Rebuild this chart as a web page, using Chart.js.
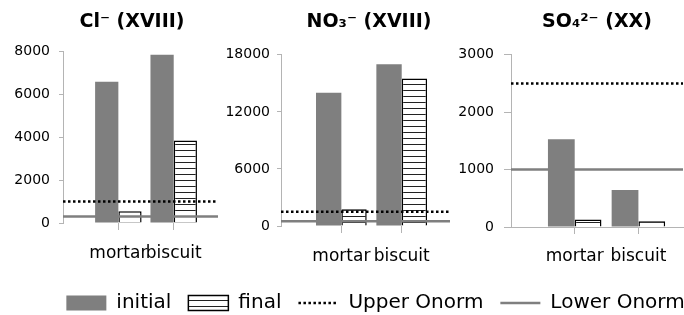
<!DOCTYPE html>
<html>
<head>
<meta charset="utf-8">
<script src="https://cdn.jsdelivr.net/npm/chart.js@4.4.1/dist/chart.umd.min.js"></script>
<style>
  html, body { margin: 0; padding: 0; background: #fff; overflow: hidden; }
  body { width: 684px; height: 315px; position: relative; }
  canvas { position: absolute; }
</style>
</head>
<body>
<canvas id="clChart" style="left:0px;top:0px" width="264" height="270"></canvas>
<canvas id="no3Chart" style="left:222px;top:0px" width="294" height="270"></canvas>
<canvas id="so4Chart" style="left:450px;top:0px" width="294" height="270"></canvas>
<canvas id="legendChart" style="left:0px;top:276px" width="751" height="100"></canvas>
<script>
// Werte
const categories = ['mortar', 'biscuit'];
const seriesNames = ['initial', 'final', 'Upper Onorm', 'Lower Onorm'];

const clInitial = [6600, 7860];
const clFinal = [550, 3850];
const clUpper = 1000;
const clLower = 300;
const clTicks = [0, 2000, 4000, 6000, 8000];

const no3Initial = [14000, 17000];
const no3Final = [1750, 15500];
const no3Upper = 1500;
const no3Lower = 500;
const no3Ticks = [0, 6000, 12000, 18000];

const so4Initial = [1530, 645];
const so4Final = [130, 100];
const so4Upper = 2500;
const so4Lower = 1000;
const so4Ticks = [0, 1000, 2000, 3000];

Chart.defaults.font.family = 'DejaVu Sans';
Chart.defaults.color = '#000';

const gray = '#7f7f7f';
const axisColor = '#b4b4b4';

// Schraffur fuer "final"
function makeHatch() {
  let c = document.createElement('canvas');
  c.width = 8;
  c.height = 6;
  let g = c.getContext('2d');
  g.fillStyle = '#fff';
  g.fillRect(0, 0, 8, 6);
  g.fillStyle = '#222';
  g.fillRect(0, 0, 8, 1);
  return g.createPattern(c, 'repeat');
}
const hatch = makeHatch();

// Titel horizontal an die Stelle aus dem Bild schieben
const titleShift = {
  id: 'titleShift',
  afterLayout(chart, args, opts) {
    let tb = chart.titleBlock;
    if (!tb || opts.center === undefined) return;
    let w = tb.right - tb.left;
    tb.left = opts.center - w / 2;
    tb.right = opts.center + w / 2;
  }
};

function buildDatasets(initial, final, upper, lower, xMax) {
  return [
    {
      type: 'bar', label: seriesNames[0], order: 2,
      data: initial.map((v, i) => ({ x: i + 1, y: v })),
      backgroundColor: gray, borderWidth: 0, pointStyle: 'rect'
    },
    {
      type: 'bar', label: seriesNames[1], order: 2,
      data: final.map((v, i) => ({ x: i + 1, y: v })),
      backgroundColor: hatch, borderColor: '#000', borderWidth: 1.5, pointStyle: 'rect'
    },
    {
      type: 'line', label: seriesNames[2], order: 1,
      data: [{ x: 0, y: upper }, { x: xMax, y: upper }],
      borderColor: '#000', borderWidth: 2.5, borderDash: [2.5, 2.5],
      pointRadius: 0, pointStyle: 'line'
    },
    {
      type: 'line', label: seriesNames[3], order: 1,
      data: [{ x: 0, y: lower }, { x: xMax, y: lower }],
      borderColor: gray, borderWidth: 2.5, pointRadius: 0, pointStyle: 'line'
    }
  ];
}

function renderPanel(id, title, initial, final, upper, lower, yTicks, g) {
  new Chart(document.getElementById(id), {
    type: 'bar',
    data: { datasets: buildDatasets(initial, final, upper, lower, g.xMax) },
    plugins: [titleShift],
    options: {
      responsive: false,
      animation: false,
      devicePixelRatio: 1,
      datasets: { bar: { categoryPercentage: 0.84, barPercentage: 1 } },
      layout: { padding: { left: 0, right: g.padRight, top: 0, bottom: 0 } },
      scales: {
        x: {
          type: 'linear', min: 0, max: g.xMax, offset: false,
          grid: { display: true, drawOnChartArea: false, tickLength: 7, offset: false, color: axisColor },
          border: { display: g.xBorder, color: axisColor },
          ticks: {
            autoSkip: false, maxRotation: 0, padding: g.xPad,
            font: { size: 17 },
            callback: v => categories[v - 1] || ''
          },
          afterBuildTicks: s => { s.ticks = categories.map((c, i) => ({ value: i + 1 })); },
          afterFit: s => { s.height = g.xH; }
        },
        y: {
          min: 0, max: yTicks[yTicks.length - 1],
          grid: { display: true, drawOnChartArea: false, tickLength: g.tickLen, color: axisColor },
          border: { display: true, color: axisColor },
          ticks: { padding: g.yPad, font: { size: 14 }, callback: v => String(v) },
          afterBuildTicks: s => { s.ticks = yTicks.map(v => ({ value: v })); },
          afterFit: s => { s.width = g.axisW; }
        }
      },
      plugins: {
        legend: { display: false },
        tooltip: { enabled: false },
        titleShift: { center: g.titleCenter },
        title: {
          display: true, text: title, color: '#000',
          font: { size: 19, weight: 'bold' },
          padding: { top: 11, bottom: g.titleBottom }
        }
      }
    }
  });
}

renderPanel('clChart', 'Cl\u207B (XVIII)', clInitial, clFinal, clUpper, clLower, clTicks,
  { xMax: 2.8, padRight: 46, axisW: 63, tickLen: 4, yPad: 9, xH: 47, xPad: 13, titleBottom: 18, titleCenter: 132, xBorder: false });
renderPanel('no3Chart', 'NO\u2083\u207B (XVIII)', no3Initial, no3Final, no3Upper, no3Lower, no3Ticks,
  { xMax: 2.8, padRight: 66, axisW: 59, tickLen: 4, yPad: 7, xH: 44, xPad: 13, titleBottom: 21, titleCenter: 147, xBorder: false });
renderPanel('so4Chart', 'SO\u2084\u00B2\u207B (XX)', so4Initial, so4Final, so4Upper, so4Lower, so4Ticks,
  { xMax: 2.7, padRight: 61, axisW: 61, tickLen: 7, yPad: 10, xH: 43, xPad: 12, titleBottom: 21, titleCenter: 147, xBorder: true });

// gemeinsame Legende unten
const legendSets = buildDatasets([], [], 0, 0, 1).map(d => Object.assign(d, { data: [], order: 0 }));
new Chart(document.getElementById('legendChart'), {
  type: 'bar',
  data: { labels: [], datasets: legendSets },
  options: {
    responsive: false,
    animation: false,
    devicePixelRatio: 1,
    scales: { x: { display: false }, y: { display: false } },
    plugins: {
      tooltip: { enabled: false },
      legend: {
        display: true,
        labels: {
          usePointStyle: true, pointStyleWidth: 40, boxHeight: 15,
          padding: 17, color: '#000', font: { size: 20 },
          generateLabels(chart) {
            let items = Chart.defaults.plugins.legend.labels.generateLabels(chart);
            items.forEach(it => {
              let ds = chart.data.datasets[it.datasetIndex];
              if (ds.type === 'line') {
                it.lineDash = ds.borderDash || [];
                it.lineWidth = ds.borderWidth;
                it.strokeStyle = ds.borderColor;
              }
            });
            return items;
          }
        }
      }
    }
  }
});
</script>
</body>
</html>
